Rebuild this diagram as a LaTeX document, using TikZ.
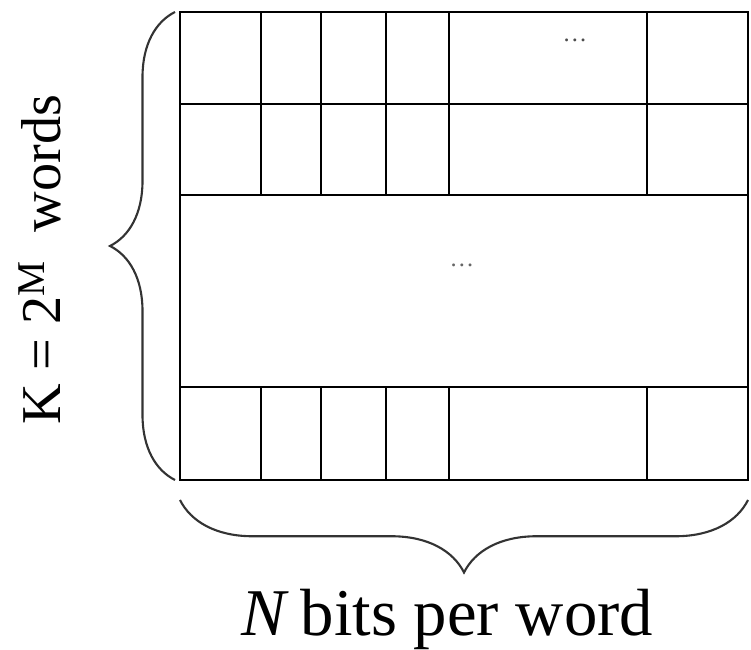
\documentclass[tikz,border=0pt]{standalone}
\usepackage{fontspec}
\setmainfont{Liberation Serif}
\usepackage{tikz}
\usetikzlibrary{decorations.pathreplacing}

\begin{document}
\begin{tikzpicture}%[scale=1.0]
\useasboundingbox (0,0) rectangle (15.02,13);
\tikzset{cell/.style={line width=1.4pt,black}, brc/.style={line width=1.2pt,black!80,decorate}}
% memory array
\draw[cell] (3.6,3.4) rectangle (14.96,12.76);
\draw[cell] (3.6,10.92) -- (14.96,10.92);\draw[cell] (3.6,9.1) -- (14.96,9.1);\draw[cell] (3.6,5.26) -- (14.96,5.26);
\foreach \x in {5.22,6.42,7.72,8.98,12.94} {
\draw[cell] (\x,9.1) -- (\x,12.76);
\draw[cell] (\x,3.4) -- (\x,5.26);
}
\node[black!70] (dots-top) at (11.5,12.2) {\fontsize{14}{14}\selectfont\ldots};
\node[black!60] (dots-mid) at (9.24,7.7) {\fontsize{14}{14}\selectfont\ldots};
% braces
\draw[brc,decoration={brace,amplitude=1.3cm}] (3.5,3.4) -- (3.5,12.76);
\draw[brc,decoration={brace,amplitude=1.45cm}] (14.96,3.0) -- (3.6,3.0);
\node[rotate=90] (lbl-k) at (0.8,7.8) {\fontsize{32}{34}\selectfont K = 2\textsuperscript{M}\ \ words};
\node (lbl-n) at (8.95,0.62) {\fontsize{38}{40}\selectfont\textit{N}\,bits per word};
\end{tikzpicture}
\end{document}
